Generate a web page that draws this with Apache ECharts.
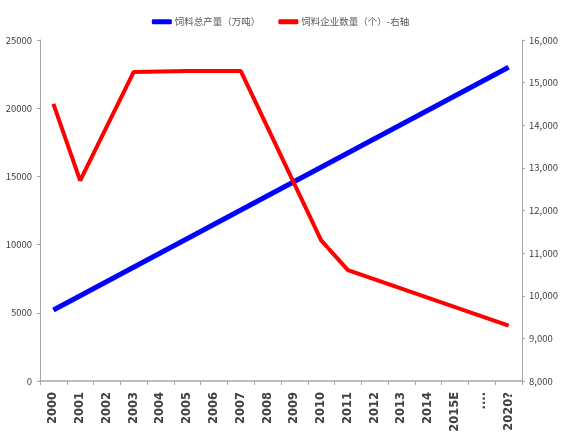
<!DOCTYPE html>
<html>
<head>
<meta charset="utf-8">
<script src="https://cdn.jsdelivr.net/npm/echarts@6/dist/echarts.min.js"></script>
<style>
  html, body { margin: 0; padding: 0; background: #fff; }
  #chart { width: 561px; height: 436px; }
</style>
</head>
<body>
<div id="chart"></div>
<script>
// Years on the horizontal axis
const years = ['2000', '2001', '2002', '2003', '2004', '2005', '2006', '2007', '2008',
  '2009', '2010', '2011', '2012', '2013', '2014', '2015E', '....', '2020?'];

// Total feed output (10k tonnes), left axis; straight trend between the end points
const feedOutput = [5200, null, null, null, null, null, null, null, null,
  null, null, null, null, null, null, null, null, 23000];

// Number of feed enterprises, right axis
const feedCompanies = [14500, 12700, null, 15250, null, 15270, null, 15270, null,
  null, 11300, 10600, null, null, null, null, null, 9300];

const leftTicks = { min: 0, max: 25000, interval: 5000 };
const rightTicks = { min: 8000, max: 16000, interval: 1000 };

const labelFont = '"Noto Sans CJK SC", "Noto Sans", sans-serif';
const chart = echarts.init(document.getElementById('chart'));

chart.setOption({
  animation: false,
  legend: {
    top: 12,
    left: 'center',
    itemWidth: 20,
    itemHeight: 5,
    itemGap: 18,
    icon: 'roundRect',
    textStyle: { fontFamily: labelFont, fontSize: 9.5, color: '#595959', padding: [0, 0, 0, -2] },
    data: ['饲料总产量（万吨）', '饲料企业数量（个）-右轴']
  },
  grid: { left: 40, right: 35, top: 40, bottom: 55 },
  xAxis: {
    type: 'category',
    data: years,
    boundaryGap: true,
    axisLine: { lineStyle: { color: '#a6a6a6', width: 1.5 } },
    axisTick: { show: true, alignWithLabel: false, length: 4, lineStyle: { color: '#a6a6a6' } },
    axisLabel: {
      rotate: 90,
      interval: 0,
      margin: 11,
      fontFamily: '"DejaVu Sans", sans-serif',
      fontWeight: 'bold',
      fontSize: 11.5,
      color: '#404040'
    }
  },
  yAxis: [
    {
      type: 'value',
      position: 'left',
      min: leftTicks.min,
      max: leftTicks.max,
      interval: leftTicks.interval,
      splitLine: { show: false },
      axisLine: { show: true, lineStyle: { color: '#a6a6a6' } },
      axisTick: { show: true, length: 3, lineStyle: { color: '#a6a6a6' } },
      axisLabel: {
        fontFamily: labelFont, fontSize: 9.5, color: '#404040', margin: 8,
        formatter: v => String(v)
      }
    },
    {
      type: 'value',
      position: 'right',
      min: rightTicks.min,
      max: rightTicks.max,
      interval: rightTicks.interval,
      splitLine: { show: false },
      axisLine: { show: true, lineStyle: { color: '#a6a6a6' } },
      axisTick: { show: true, length: 3, lineStyle: { color: '#a6a6a6' } },
      axisLabel: {
        fontFamily: labelFont, fontSize: 9.5, color: '#404040', margin: 7,
        formatter: v => v.toLocaleString('en-US')
      }
    }
  ],
  series: [
    {
      name: '饲料总产量（万吨）',
      type: 'line',
      yAxisIndex: 0,
      data: feedOutput,
      connectNulls: true,
      showSymbol: false,
      symbol: 'none',
      lineStyle: { color: '#0000ff', width: 5 },
      itemStyle: { color: '#0000ff' }
    },
    {
      name: '饲料企业数量（个）-右轴',
      type: 'line',
      yAxisIndex: 1,
      data: feedCompanies,
      connectNulls: true,
      showSymbol: false,
      symbol: 'none',
      lineStyle: { color: '#ff0000', width: 4 },
      itemStyle: { color: '#ff0000' }
    }
  ]
});
</script>
</body>
</html>
